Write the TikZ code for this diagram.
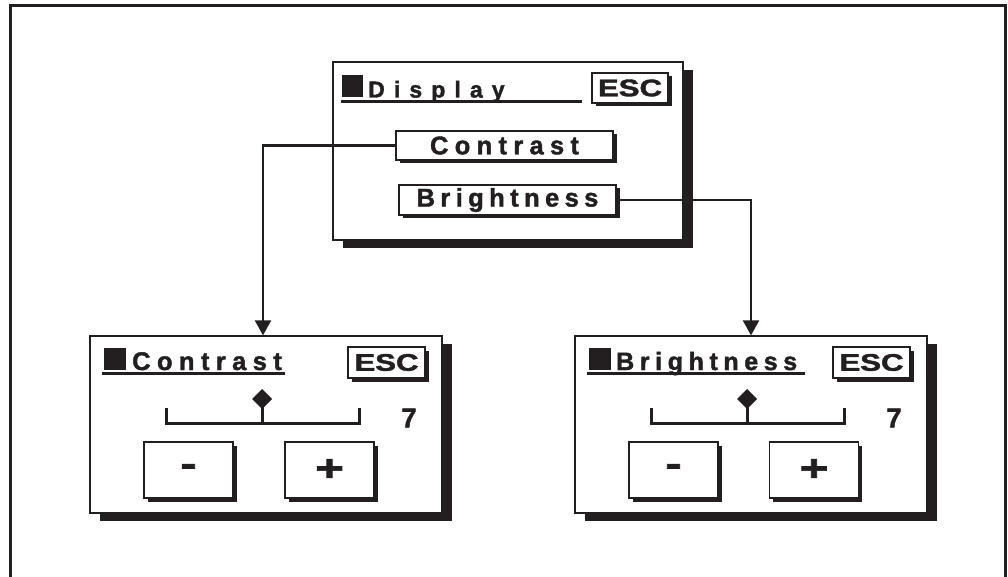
\documentclass[tikz,border=0pt]{standalone}
\usepackage{fontspec}
\setmainfont{Liberation Sans}[BoldFeatures={FakeBold=1.6}]
\usetikzlibrary{shadows,arrows.meta}
\definecolor{ink}{HTML}{231F20}
\ExplSyntaxOn
\NewDocumentCommand\spaced{mm}{\tl_map_inline:nn{#2}{##1\hspace{#1}}\unskip}
\ExplSyntaxOff
\newcommand\wide[1]{\scalebox{1.3}[1]{#1}}
\newcommand\sign[1]{\scalebox{1.33}[1]{\fontsize{37}{37}\selectfont #1}}
\begin{document}
\begin{tikzpicture}[x=1pt,y=-1pt,
  txt/.style={text=ink,font=\bfseries\fontsize{25}{28}\selectfont,inner sep=0pt},
  panel/.style={rectangle,draw=ink,line width=1.3pt,fill=white,inner sep=0pt,
    drop shadow={shadow xshift=10pt,shadow yshift=-8pt,fill=ink,opacity=1}},
  btn/.style={rectangle,draw=ink,line width=1.3pt,fill=white,inner sep=0pt,
    text=ink,font=\bfseries\fontsize{25.5}{28}\selectfont,
    drop shadow={shadow xshift=3.5pt,shadow yshift=-3.5pt,fill=ink,opacity=1}},
  escbtn/.style={btn,font=\bfseries\fontsize{24}{28}\selectfont},
  conn/.style={draw=ink,line width=2.2pt},
  arr/.style={conn,-{Triangle[length=15pt,width=16pt]}},
  thick3/.style={draw=ink,line width=3pt},
  blk/.style={fill=ink,draw=none}]
\useasboundingbox (0,0) rectangle (1008,577);
% outer frame (open at bottom)
\draw[ink,line width=3pt] (10,580) -- (10,5.5) -- (1005.5,5.5) -- (1005.5,580);

% Display panel
\node[panel,minimum width=350,minimum height=178] (disp) at (508,151) {};
\fill[blk] (342,75) rectangle (363,97);
\node[txt,anchor=base west,font=\bfseries\fontsize{23}{26}\selectfont] (dtitle) at (368,97.5) {\spaced{9.1pt}{Display}};
\draw[thick3] (341,102) -- (582,102);
\node[escbtn,minimum width=76,minimum height=30] (desc) at (630,88) {\wide{ESC}};
\node[btn,minimum width=217,minimum height=29] (cbtn) at (504.5,145.5) {\spaced{6.3pt}{Contrast}};
\node[btn,minimum width=217,minimum height=30] (bbtn) at (507.5,200) {\spaced{5.4pt}{Brightness}};

% Contrast panel
\node[panel,minimum width=352,minimum height=177] (lbox) at (266,424.5) {};
\fill[blk] (104,348) rectangle (126,370);
\node[txt,anchor=base west,font=\bfseries\fontsize{25.5}{29}\selectfont] (ltitle) at (132,370) {\spaced{6.4pt}{Contrast}};
\draw[thick3] (102,373.5) -- (285,373.5);
\node[escbtn,minimum width=77,minimum height=31] (lesc) at (386.5,362.5) {\wide{ESC}};
\draw[thick3] (166,408) -- (166,423) -- (359,423) -- (359,408);
\draw[thick3] (262,405) -- (262,423);
\fill[blk] (262,389) -- (272,399) -- (262,409) -- (252,399) -- cycle;
\node[txt,font=\bfseries\fontsize{27}{30}\selectfont] (lval) at (409,418) {7};
\node[btn,minimum width=89,minimum height=56] (lminus) at (188.5,470) {\sign{-}};
\node[btn,minimum width=89,minimum height=56] (lplus) at (329.5,470) {\sign{+}};

% Brightness panel
\node[panel,minimum width=352,minimum height=177] (rbox) at (751,424.5) {};
\fill[blk] (589,348) rectangle (611,370);
\node[txt,anchor=base west] (rtitle) at (616,370) {\spaced{5.6pt}{Brightness}};
\draw[thick3] (587,373.5) -- (805,373.5);
\node[escbtn,minimum width=77,minimum height=31] (resc) at (871.5,362.5) {\wide{ESC}};
\draw[thick3] (651,408) -- (651,423) -- (844,423) -- (844,408);
\draw[thick3] (747,405) -- (747,423);
\fill[blk] (747,389) -- (757,399) -- (747,409) -- (737,399) -- cycle;
\node[txt,font=\bfseries\fontsize{27}{30}\selectfont] (rval) at (894,418) {7};
\node[btn,minimum width=89,minimum height=56] (rminus) at (673.5,470) {\sign{-}};
\node[btn,minimum width=89,minimum height=56] (rplus) at (814,470) {\sign{+}};

% connectors
\draw[arr] (cbtn.west) -| ([xshift=-3pt]lbox.north);
\draw[arr] (bbtn.east) -| (rbox.north);
\end{tikzpicture}
\end{document}
